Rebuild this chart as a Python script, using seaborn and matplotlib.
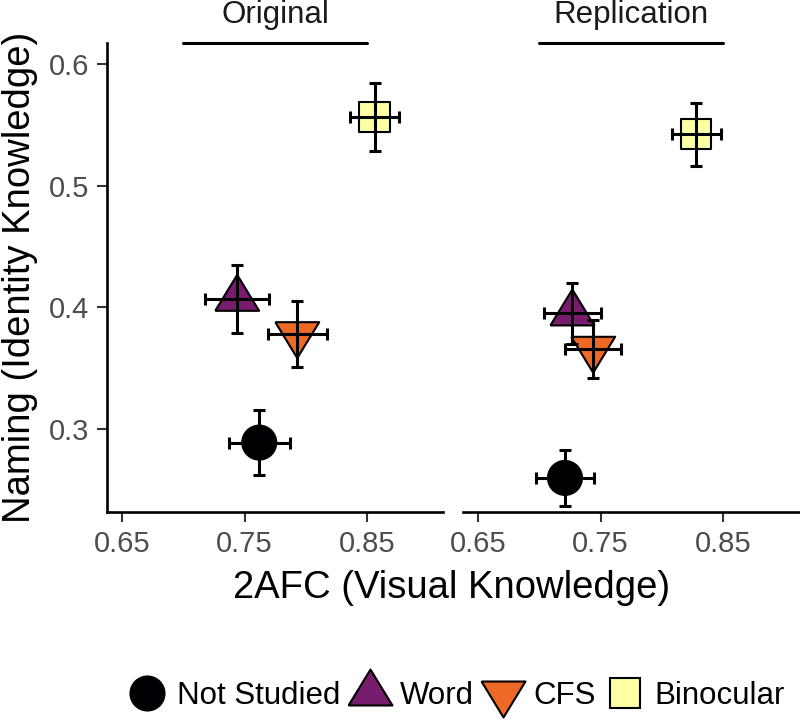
import pandas as pd
import seaborn as sns
import matplotlib.pyplot as plt
from matplotlib.lines import Line2D

# values
conditions = ['Not Studied', 'Word', 'CFS', 'Binocular']
studies = ['Original', 'Replication']

afc_original = [0.762, 0.744, 0.793, 0.856]
afc_original_err = [0.025, 0.026, 0.024, 0.020]
naming_original = [0.289, 0.407, 0.378, 0.556]
naming_original_err = [0.027, 0.028, 0.027, 0.028]

afc_replication = [0.721, 0.727, 0.744, 0.828]
afc_replication_err = [0.024, 0.023, 0.023, 0.020]
naming_replication = [0.260, 0.395, 0.366, 0.542]
naming_replication_err = [0.023, 0.025, 0.024, 0.026]

x_ticks = [0.65, 0.75, 0.85]
y_ticks = [0.3, 0.4, 0.5, 0.6]

df = pd.DataFrame({
    'study': [studies[0]] * 4 + [studies[1]] * 4,
    'condition': conditions * 2,
    'afc': afc_original + afc_replication,
    'afc_err': afc_original_err + afc_replication_err,
    'naming': naming_original + naming_replication,
    'naming_err': naming_original_err + naming_replication_err,
})

palette = {'Not Studied': '#000004', 'Word': '#781C6D',
           'CFS': '#ED6925', 'Binocular': '#FCFFA4'}
tri_up = [(-22, -12), (22, -12), (0, 24), (-22, -12)]
tri_down = [(-22, 12), (22, 12), (0, -24), (-22, 12)]
markers = {'Not Studied': 'o', 'Word': tri_up, 'CFS': tri_down, 'Binocular': 's'}
sizes = {'Not Studied': 600, 'Word': 1190, 'CFS': 1190, 'Binocular': 470}

sns.set_style('white')
plt.rcParams['font.family'] = ['Liberation Sans', 'DejaVu Sans']
plt.rcParams['text.color'] = 'black'

fig = plt.figure(figsize=(8, 7.23), dpi=100)
ax_l = fig.add_axes([0.134, 0.2918, 0.42, 0.6487])
ax_r = fig.add_axes([0.579, 0.2918, 0.42, 0.6487])

for ax, study in zip([ax_l, ax_r], studies):
    sub = df[df['study'] == study]
    sns.scatterplot(data=sub, x='afc', y='naming', hue='condition', style='condition',
                    size='condition', palette=palette, markers=markers, sizes=sizes,
                    hue_order=conditions, style_order=conditions, size_order=conditions,
                    edgecolor='black', linewidth=1.5, legend=False, ax=ax, zorder=3)
    ax.errorbar(sub['afc'], sub['naming'], xerr=sub['afc_err'], yerr=sub['naming_err'],
                fmt='none', ecolor='black', elinewidth=2.2, capsize=4.5, capthick=2.2,
                zorder=5)
    ax.set_xlim(0.638, 0.912)
    ax.set_ylim(0.232, 0.617)
    ax.set_xticks(x_ticks)
    ax.set_xticklabels(['0.65', '0.75', '0.85'])
    ax.set_xlabel('')
    ax.set_ylabel('')
    for side in ['top', 'right']:
        ax.spines[side].set_visible(False)
    for side in ['left', 'bottom']:
        ax.spines[side].set_linewidth(1.9)
        ax.spines[side].set_color('black')
    ax.tick_params(axis='both', length=7, width=1.5, color='#333333',
                   labelsize=21, labelcolor='#4D4D4D', pad=6, bottom=True, left=True)
    # strip label with underline
    trans = ax.get_xaxis_transform()
    ax.plot([0.70, 0.85], [1.0, 1.0], color='black', lw=2.2, transform=trans, clip_on=False)
    ax.text(0.775, 1.042, study, transform=trans, ha='center', va='baseline',
            fontsize=22.5, color='#1A1A1A')

ax_l.set_yticks(y_ticks)
ax_l.set_yticklabels(['0.3', '0.4', '0.5', '0.6'])
ax_r.spines['left'].set_visible(False)
ax_r.set_yticks([])

fig.text(0.564, 1 - 598 / 723, '2AFC (Visual Knowledge)', ha='center', va='baseline',
         fontsize=27.5, color='black')
fig.text(0.025, 1 - 277 / 723, 'Naming (Identity Knowledge)', ha='center', va='center',
         rotation=90, fontsize=27.5, color='black')

handles = [Line2D([], [], linestyle='none', marker=markers[c], markersize=(sizes[c] ** 0.5),
                  markerfacecolor=palette[c], markeredgecolor='black', markeredgewidth=1.5)
           for c in conditions]
fig.legend(handles, conditions, loc='center', bbox_to_anchor=(0.571, 0.038), ncol=4,
           frameon=False, fontsize=22.5, handlelength=1.2, handletextpad=0.35,
           columnspacing=0.35, borderpad=0, labelcolor='black')

fig.savefig('out.png', dpi=100)
